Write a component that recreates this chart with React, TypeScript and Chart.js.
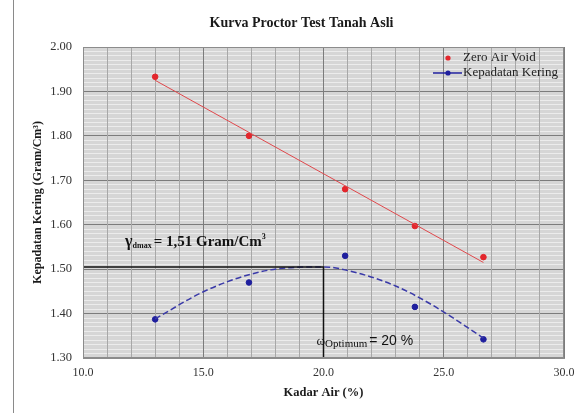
import React, { useEffect, useRef } from "react";
import { Chart, registerables } from "chart.js";

Chart.register(...registerables);

// ---- data ----
const chartTitle = "Kurva Proctor Test Tanah Asli";
const xAxisTitle = "Kadar Air (%)";
const yAxisTitle = "Kepadatan Kering (Gram/Cm³)";
const seriesNames = ["Zero Air Void", "Kepadatan Kering"];

const waterContent = [13.0, 16.9, 20.9, 23.8, 26.65];
const zeroAirVoid = [1.933, 1.8, 1.68, 1.597, 1.527];
const dryDensity = [1.387, 1.47, 1.53, 1.415, 1.342];

const zavTrendX = [13.0, 26.65];
const zavTrendY = [1.925, 1.515];

const dryTrendX = [13.0, 15.0, 17.0, 18.5, 20.0, 21.5, 23.0, 24.5, 26.65];
const dryTrendY = [1.388, 1.449, 1.489, 1.503, 1.505, 1.49, 1.462, 1.42, 1.345];

const maxDryDensity = 1.505;
const optimumWater = 20;
const maxDensityText = "= 1,51 Gram/Cm";
const optimumText = "= 20 %";

const xRange = [10, 30];
const xStep = 1;
const xMajorStep = 5;
const yRange = [1.3, 2.0];
const yStep = 0.01;
const yMajorStep = 0.1;

const SERIF = '"Liberation Serif", "DejaVu Serif", serif';
const SANS = '"Liberation Sans", Arial, sans-serif';
const RED = "#e3262c";
const BLUE = "#1f1f9e";

const isMult = (v: number, m: number) => Math.abs(v / m - Math.round(v / m)) < 1e-6;

const decorPlugin = {
  id: "decor",
  beforeDraw(chart: any) {
    const { ctx, chartArea: a } = chart;
    ctx.save();
    ctx.fillStyle = "#d6d6d6";
    ctx.fillRect(a.left, a.top, a.right - a.left, a.bottom - a.top);
    // page edge line
    ctx.strokeStyle = "#8a8a8a";
    ctx.lineWidth = 1;
    ctx.beginPath();
    ctx.moveTo(13.5, 0);
    ctx.lineTo(13.5, chart.height);
    ctx.stroke();
    // title
    ctx.fillStyle = "#1a1a1a";
    ctx.font = `bold 14px ${SERIF}`;
    ctx.textAlign = "center";
    ctx.textBaseline = "middle";
    ctx.fillText(chartTitle, (a.left + a.right) / 2 - 22, 23);
    ctx.restore();
  },
  afterDatasetsDraw(chart: any) {
    const { ctx, chartArea: a, scales } = chart;
    const xs = scales.x;
    const ys = scales.y;
    ctx.save();
    // plot border
    ctx.strokeStyle = "#8c8c8c";
    ctx.lineWidth = 1;
    ctx.strokeRect(a.left + 0.5, a.top + 0.5, a.right - a.left - 1, a.bottom - a.top - 1);

    // legend
    const lx = a.right - 116;
    ctx.textAlign = "left";
    ctx.textBaseline = "middle";
    ctx.font = `13px ${SERIF}`;
    ctx.fillStyle = RED;
    ctx.beginPath();
    ctx.arc(lx, a.top + 11, 2.6, 0, Math.PI * 2);
    ctx.fill();
    ctx.fillStyle = "#222";
    ctx.fillText(seriesNames[0], lx + 15, a.top + 11);
    ctx.strokeStyle = BLUE;
    ctx.lineWidth = 1.5;
    ctx.beginPath();
    ctx.moveTo(lx - 15, a.top + 26);
    ctx.lineTo(lx + 14, a.top + 26);
    ctx.stroke();
    ctx.fillStyle = BLUE;
    ctx.beginPath();
    ctx.arc(lx, a.top + 26, 2.6, 0, Math.PI * 2);
    ctx.fill();
    ctx.fillStyle = "#222";
    ctx.fillText(seriesNames[1], lx + 15, a.top + 26);

    // gamma annotation
    ctx.textBaseline = "alphabetic";
    ctx.fillStyle = "#111";
    let gx = xs.getPixelForValue(11.75);
    const gy = ys.getPixelForValue(1.553);
    ctx.font = `bold 16px ${SERIF}`;
    ctx.fillText("γ", gx, gy);
    gx += ctx.measureText("γ").width;
    ctx.font = `bold 8px ${SERIF}`;
    ctx.fillText("dmax", gx, gy + 2);
    gx += ctx.measureText("dmax").width + 2;
    ctx.font = `bold 15px ${SERIF}`;
    ctx.fillText(maxDensityText, gx, gy);
    gx += ctx.measureText(maxDensityText).width;
    ctx.font = `bold 8px ${SERIF}`;
    ctx.fillText("3", gx, gy - 7);

    // omega annotation
    let ox = xs.getPixelForValue(19.71);
    const oy = ys.getPixelForValue(1.329);
    ctx.font = `13px ${SERIF}`;
    ctx.fillText("ω", ox, oy);
    ox += ctx.measureText("ω").width;
    ctx.font = `11px ${SERIF}`;
    ctx.fillText("Optimum", ox, oy + 2);
    ox += ctx.measureText("Optimum").width + 2;
    ctx.font = `14px ${SANS}`;
    ctx.fillText(optimumText, ox, oy);
    ctx.restore();
  },
};

export default function App() {
  const ref = useRef<HTMLCanvasElement>(null);

  useEffect(() => {
    if (!ref.current) return;
    const toPts = (xs: number[], ys: number[]) => xs.map((x, i) => ({ x, y: ys[i] }));
    const chart = new Chart(ref.current, {
      type: "scatter",
      data: {
        datasets: [
          {
            label: "refLines",
            data: [
              { x: xRange[0], y: maxDryDensity },
              { x: optimumWater, y: maxDryDensity },
              { x: optimumWater, y: yRange[0] },
            ],
            showLine: true,
            borderColor: "#111",
            borderWidth: 1.5,
            pointRadius: 0,
          },
          {
            label: "zavTrend",
            data: toPts(zavTrendX, zavTrendY),
            showLine: true,
            borderColor: "#e0484c",
            borderWidth: 1,
            pointRadius: 0,
          },
          {
            label: "dryTrend",
            data: toPts(dryTrendX, dryTrendY),
            showLine: true,
            borderColor: "#3a3aa8",
            borderWidth: 1.5,
            borderDash: [6, 3],
            cubicInterpolationMode: "monotone",
            pointRadius: 0,
          },
          {
            label: seriesNames[0],
            data: toPts(waterContent, zeroAirVoid),
            showLine: false,
            backgroundColor: RED,
            borderColor: RED,
            pointRadius: 2.8,
            pointStyle: "circle",
          },
          {
            label: seriesNames[1],
            data: toPts(waterContent, dryDensity),
            showLine: false,
            backgroundColor: BLUE,
            borderColor: BLUE,
            pointRadius: 2.8,
            pointStyle: "circle",
          },
        ],
      },
      options: {
        animation: false,
        responsive: false,
        layout: { padding: { left: 0, right: 10, top: 47, bottom: 0 } },
        plugins: {
          legend: { display: false },
          title: { display: false },
          tooltip: { enabled: false },
        },
        scales: {
          x: {
            type: "linear",
            min: xRange[0],
            max: xRange[1],
            afterFit(scale: any) {
              scale.height = 55;
              scale.paddingLeft = 0;
              scale.paddingRight = 0;
            },
            ticks: {
              stepSize: xStep,
              maxTicksLimit: 1000,
              autoSkip: false,
              maxRotation: 0,
              padding: 8,
              color: "#333",
              font: { family: SERIF, size: 12 },
              callback: (v: any) => (isMult(Number(v), xMajorStep) ? Number(v).toFixed(1) : ""),
            },
            grid: {
              z: -1,
              drawTicks: false,
              color: (c: any) => (c.tick && isMult(c.tick.value, xMajorStep) ? "#7c7c7c" : "#a8a8a8"),
              lineWidth: 1,
            },
            border: { display: true, color: "#8c8c8c" },
            title: {
              display: true,
              text: xAxisTitle,
              color: "#1a1a1a",
              font: { family: SERIF, size: 12.5, weight: "bold" },
              padding: { top: 0, bottom: 12.5 },
            },
          },
          y: {
            type: "linear",
            min: yRange[0],
            max: yRange[1],
            afterFit(scale: any) {
              scale.width = 83;
              scale.paddingTop = 0;
              scale.paddingBottom = 0;
            },
            ticks: {
              stepSize: yStep,
              maxTicksLimit: 1000,
              autoSkip: false,
              padding: 11,
              color: "#333",
              font: { family: SERIF, size: 12.5 },
              callback: (v: any) => (isMult(Number(v), yMajorStep) ? Number(v).toFixed(2) : ""),
            },
            grid: {
              z: -2,
              drawTicks: false,
              color: (c: any) => (c.tick && isMult(c.tick.value, yMajorStep) ? "#7c7c7c" : "#ececec"),
              lineWidth: 1,
            },
            border: { display: true, color: "#8c8c8c" },
            title: {
              display: true,
              text: yAxisTitle,
              color: "#1a1a1a",
              font: { family: SERIF, size: 12, weight: "bold" },
              padding: { top: 31, bottom: 0 },
            },
          },
        },
      },
      plugins: [decorPlugin],
    });
    return () => chart.destroy();
  }, []);

  return (
    <div style={{ position: "fixed", left: 0, top: 0, width: 574, height: 413, background: "#fff" }}>
      <canvas ref={ref} width={574} height={413} style={{ width: 574, height: 413, display: "block" }} />
    </div>
  );
}
